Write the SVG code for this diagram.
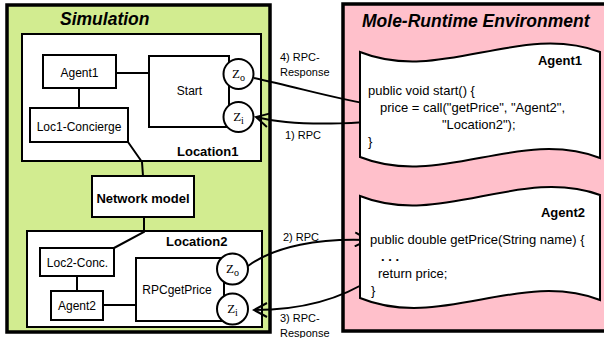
<svg xmlns="http://www.w3.org/2000/svg" width="604" height="338" viewBox="0 0 604 338">
<defs>
<style>
.box{fill:#fff;stroke:#000;stroke-width:2}
.ln{fill:none;stroke:#000;stroke-width:2}
.t{font-family:"Liberation Sans",Arial,sans-serif;font-size:12px;fill:#000}
.b{font-family:"Liberation Sans",Arial,sans-serif;font-size:13px;font-weight:bold;fill:#000}
.title{font-family:"Liberation Sans",Arial,sans-serif;font-size:17.5px;font-weight:bold;font-style:italic;fill:#000}
.code{font-family:"Liberation Sans",Arial,sans-serif;font-size:13px;fill:#000}
.lbl{font-family:"Liberation Sans",Arial,sans-serif;font-size:11px;fill:#000}
.z{font-family:"Liberation Serif","Times New Roman",serif;font-size:13px;fill:#000}
</style>
<marker id="arr" markerUnits="userSpaceOnUse" viewBox="0 0 16 16" markerWidth="16" markerHeight="16" refX="14" refY="8" orient="auto">
<path d="M1,1 L14,8 L1,15" fill="none" stroke="#000" stroke-width="2"/>
</marker>
</defs>

<g id="simulation">
<rect x="7" y="5" width="263" height="327" fill="#d2ec90" stroke="#000" stroke-width="3.5"/>
<text class="title" x="60" y="25">Simulation</text>
</g>

<g id="mole-runtime">
<rect x="343" y="4" width="270" height="327" fill="#ffc0cb" stroke="#000" stroke-width="3.5"/>
<text class="title" x="362" y="27">Mole-Runtime Environment</text>
</g>

<g id="location1">
<rect class="box" x="22" y="34" width="239" height="127"/>
<text class="b" x="177" y="156">Location1</text>
</g>

<g id="location2">
<rect class="box" x="27" y="231" width="235" height="96"/>
<text class="b" x="166" y="246">Location2</text>
</g>

<g id="connectors">
<path class="ln" d="M116,73 L149,73"/>
<path class="ln" d="M79,88 L79,108"/>
<path class="ln" d="M128,142 L142,162 L143,176"/>
<path class="ln" d="M144,217 L144,232 L114,248"/>
<path class="ln" d="M77,276 L77,291"/>
<path class="ln" d="M103,305 L136,305"/>
<path class="ln" d="M254,78 C300,88 340,100 375,105" marker-end="url(#arr)"/>
<path class="ln" d="M418,114 C380,124 300,128 256,117" marker-end="url(#arr)"/>
<path class="ln" d="M248,266 C275,246 320,238 368,240" marker-end="url(#arr)"/>
<path class="ln" d="M373,278 C340,300 300,310 254,310" marker-end="url(#arr)"/>
<text class="lbl" x="280" y="61">4) RPC-</text>
<text class="lbl" x="280" y="76">Response</text>
<text class="lbl" x="285" y="139">1) RPC</text>
<text class="lbl" x="283" y="241">2) RPC</text>
<text class="lbl" x="280" y="322">3) RPC-</text>
<text class="lbl" x="280" y="337">Response</text>
</g>

<g id="agent1">
<rect class="box" x="43" y="55" width="73" height="33"/>
<text class="t" x="79.5" y="77" text-anchor="middle">Agent1</text>
</g>

<g id="start">
<rect class="box" x="149" y="56" width="80" height="71"/>
<text class="t" x="189.5" y="95" text-anchor="middle">Start</text>
</g>

<g id="start-zo">
<circle class="box" cx="238.5" cy="74" r="15"/>
<text class="z" x="238.5" y="78" text-anchor="middle">Z<tspan font-size="10" dy="3">o</tspan></text>
</g>

<g id="start-zi">
<circle class="box" cx="238.5" cy="117" r="15"/>
<text class="z" x="238.5" y="121" text-anchor="middle">Z<tspan font-size="10" dy="3">i</tspan></text>
</g>

<g id="loc1-concierge">
<rect class="box" x="30" y="108" width="98" height="34"/>
<text class="t" x="79" y="131" text-anchor="middle">Loc1-Concierge</text>
</g>

<g id="network-model">
<rect class="box" x="92" y="176" width="102" height="41"/>
<text class="b" x="143" y="203" text-anchor="middle">Network model</text>
</g>

<g id="loc2-conc">
<rect class="box" x="40" y="248" width="74" height="28"/>
<text class="t" x="77.5" y="267" text-anchor="middle">Loc2-Conc.</text>
</g>

<g id="agent2">
<rect class="box" x="51" y="291" width="52" height="29"/>
<text class="t" x="77" y="310" text-anchor="middle">Agent2</text>
</g>

<g id="rpcgetprice">
<rect class="box" x="136" y="258" width="88" height="63"/>
<text class="t" x="177" y="294" text-anchor="middle">RPCgetPrice</text>
</g>

<g id="rpc-zo">
<circle class="box" cx="232.5" cy="269" r="15.5"/>
<text class="z" x="232.5" y="273" text-anchor="middle">Z<tspan font-size="10" dy="3">o</tspan></text>
</g>

<g id="rpc-zi">
<circle class="box" cx="232.5" cy="309" r="15.5"/>
<text class="z" x="232.5" y="313" text-anchor="middle">Z<tspan font-size="10" dy="3">i</tspan></text>
</g>

<g id="agent1-code">
<path class="box" d="M360,52 C440,84 520,22 600,52 L600,158 C520,127 440,189 360,157 Z"/>
<text class="b" x="582" y="65" text-anchor="end" font-size="13.5">Agent1</text>
<text class="code" x="368" y="95">public void start() {</text>
<text class="code" x="380" y="112">price = call("getPrice", "Agent2",</text>
<text class="code" x="442" y="129">"Location2");</text>
<text class="code" x="368" y="146">}</text>
</g>

<g id="agent2-code">
<path class="box" d="M360,196 C440,228 520,166 600,195 L600,300 C520,269 440,331 360,298 Z"/>
<text class="b" x="585" y="217" text-anchor="end" font-size="13.5">Agent2</text>
<text class="code" x="370" y="244">public double getPrice(String name) {</text>
<text class="code" x="381" y="261" font-weight="bold">. . .</text>
<text class="code" x="378" y="278">return price;</text>
<text class="code" x="371" y="295">}</text>
</g>
</svg>
